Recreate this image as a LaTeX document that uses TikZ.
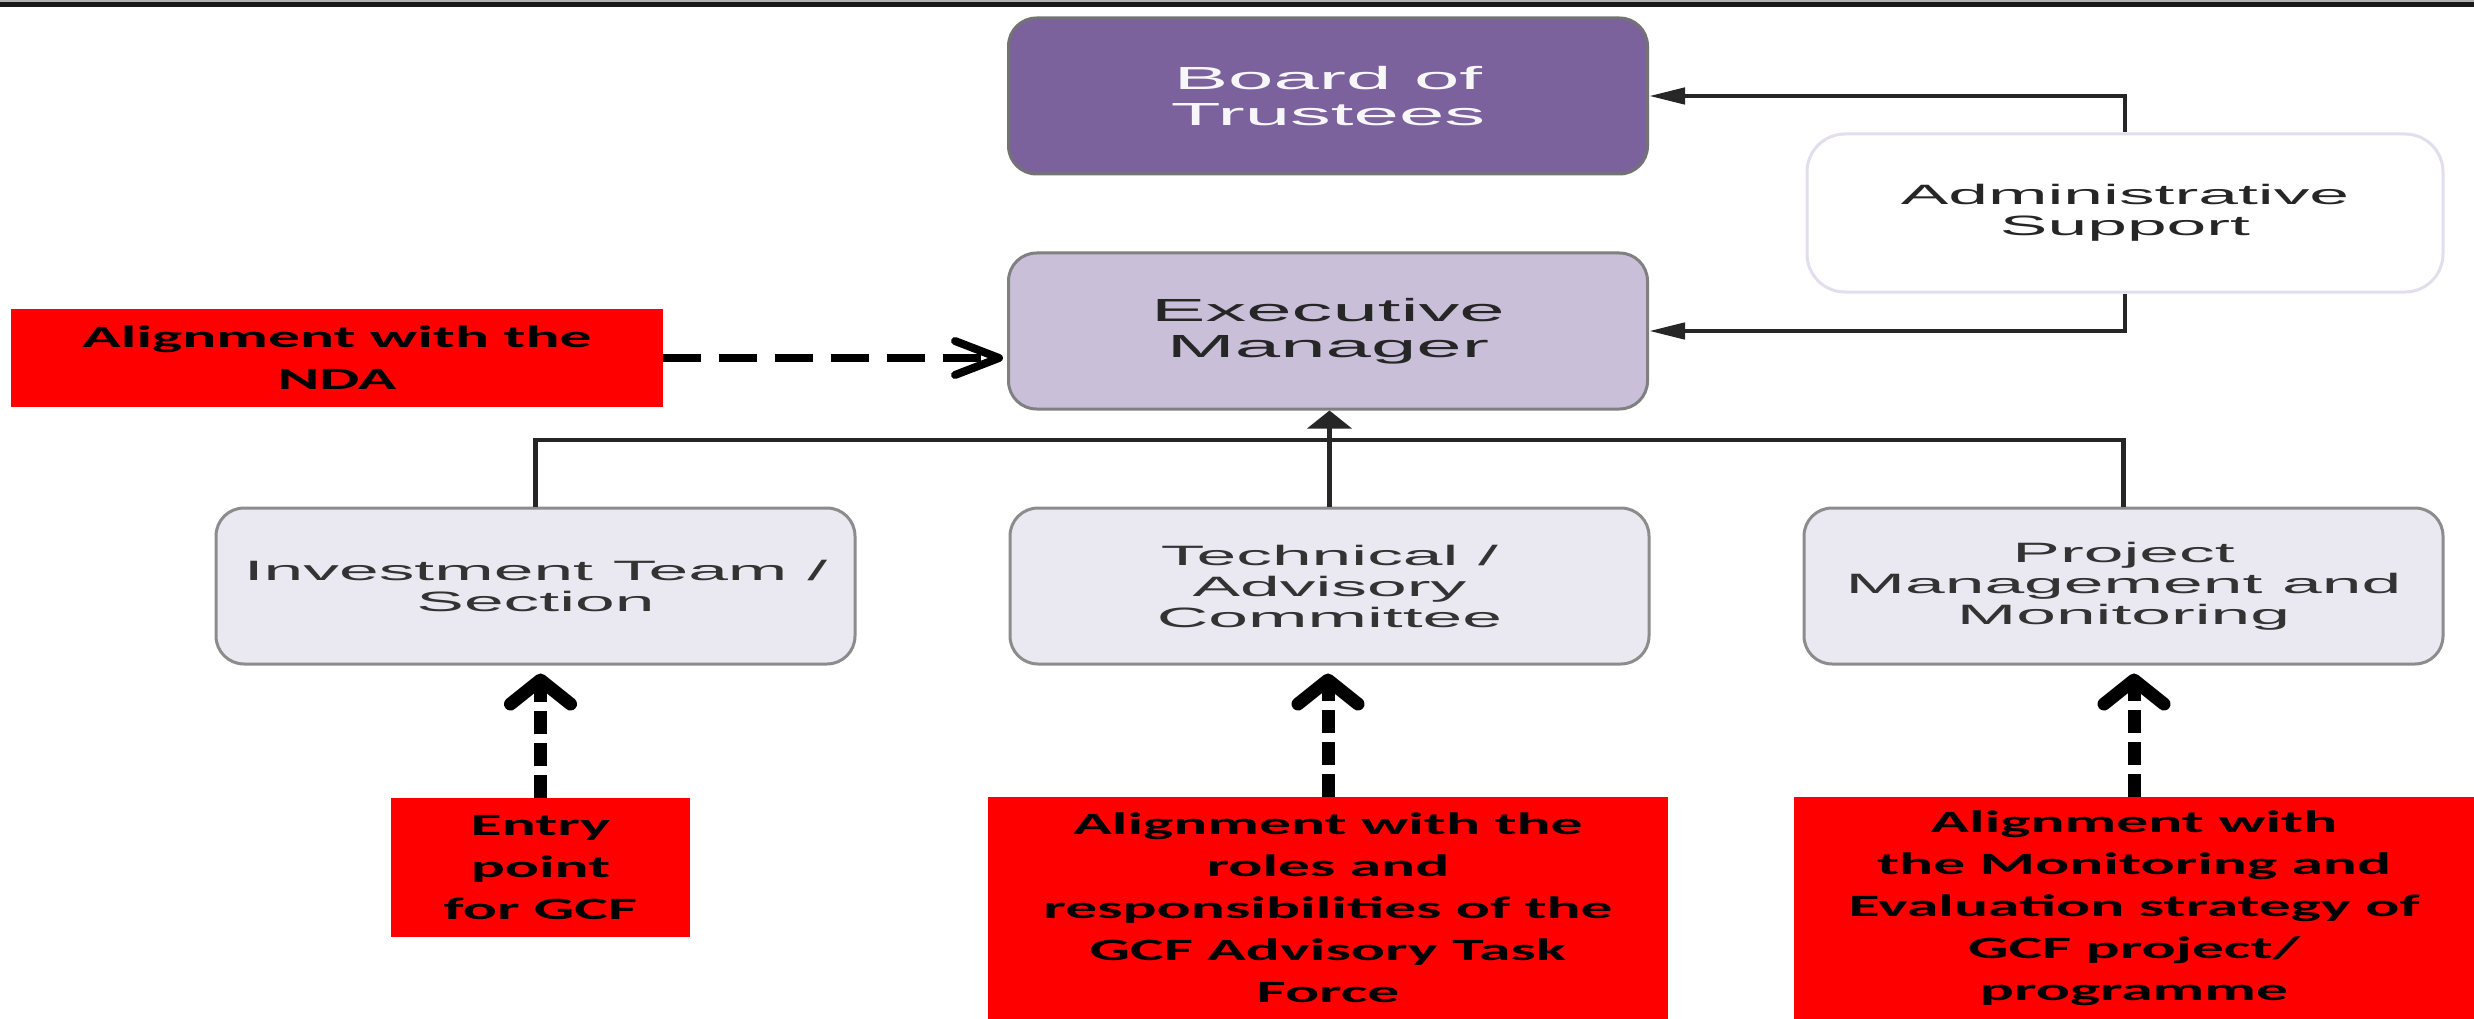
\documentclass[tikz,border=0pt]{standalone}
\usepackage{fontspec}
\usetikzlibrary{arrows.meta}
\usepackage{xcolor}

\newfontfamily\boxFont[FakeStretch=2.55]{Liberation Sans}
\newfontfamily\noteFont[FakeStretch=2.05]{Carlito}

\definecolor{boardPurple}{RGB}{124,98,156}
\definecolor{execLilac}{RGB}{201,191,216}
\definecolor{unitGrey}{RGB}{234,232,240}
\definecolor{adminEdge}{RGB}{226,222,238}

\begin{document}
\begin{tikzpicture}[%
    x=1pt, y=-1pt,
    orgBox/.style={
      rectangle,
      rounded corners=28pt,
      line width=3pt,
      minimum width=639pt,
      minimum height=156pt,
      inner sep=0pt,
      align=center
    },
    topName/.style={
      orgBox,
      font=\boxFont\fontsize{32}{36}\selectfont
    },
    unitName/.style={
      orgBox,
      draw=black!45,
      fill=unitGrey,
      text=black!80,
      font=\boxFont\fontsize{28}{31}\selectfont
    },
    alignNote/.style={
      rectangle,
      fill=red,
      inner sep=0pt,
      align=center,
      font=\noteFont\bfseries\fontsize{31}{42}\selectfont
    },
    link/.style={line width=4.5pt, black!85},
    upTip/.style={-{Triangle[length=18pt,width=44pt]}},
    sideTip/.style={-{Triangle[length=36pt,width=16pt]}},
    alignUp/.style={
      line width=13pt,
      dash pattern=on 23pt off 9pt,
      -{Straight Barb[length=24pt,width=60pt,round]},
      shorten >=8pt
    },
    alignSide/.style={
      line width=8pt,
      dash pattern=on 38pt off 18pt,
      -{Straight Barb[length=44pt,width=34pt,round]},
      shorten >=4pt
    }
  ]
    \useasboundingbox (0,0) rectangle (2474,1019);

    % rule at the top
    \fill[black!30] (0,0) rectangle (2474,2);
    \draw[black!90, line width=5pt] (0,4.5) -- (2474,4.5);

    \draw (1328,96) node[topName, draw=black!55, fill=boardPurple, text=white!94!boardPurple] (A) {Board of\\Trustees}
          (2125,213) node[unitName, draw=adminEdge, fill=white, text=black!85,
                          minimum width=636pt, minimum height=158pt, rounded corners=38pt] (B) {Administrative\\Support}
          (1328,331) node[topName, draw=black!50, fill=execLilac, text=black!85] (C) {Executive\\Manager}
          (337,358) node[alignNote, minimum width=652pt, minimum height=98pt] (D) {Alignment with the\\NDA}
          (535.5,586) node[unitName] (E) {Investment Team /\\Section}
          (1329.5,586) node[unitName] (F) {Technical /\\Advisory\\Committee}
          (2123.5,586) node[unitName] (G) {Project\\Management and\\Monitoring}
          (540.5,867.5) node[alignNote, minimum width=299pt, minimum height=139pt] (H) {Entry\\point\\for GCF}
          (1328,908) node[alignNote, minimum width=680pt, minimum height=222pt] (I) {Alignment with the\\roles and\\responsibilities of the\\GCF Advisory Task\\Force}
          (2134,908) node[alignNote, minimum width=680pt, minimum height=222pt] (J) {Alignment with\\the Monitoring and\\Evaluation strategy of\\GCF project/\\programme};

    % reporting lines
    \coordinate (bus) at (1329,440);
    \draw[link] (E.north) |- (bus) -| (G.north);
    \draw[link, upTip] (F.north) -- (F.north |- C.south);
    \draw[link, sideTip] (B.north) |- (A.east);
    \draw[link, sideTip] (B.south) |- (C.east);

    % alignment arrows
    \draw[alignSide] (D.east) -- (D.east -| C.west);
    \draw[alignUp] (H.north) -- (H.north |- E.south);
    \draw[alignUp] (I.north) -- (I.north |- F.south);
    \draw[alignUp] (J.north) -- (J.north |- G.south);
\end{tikzpicture}
\end{document}
